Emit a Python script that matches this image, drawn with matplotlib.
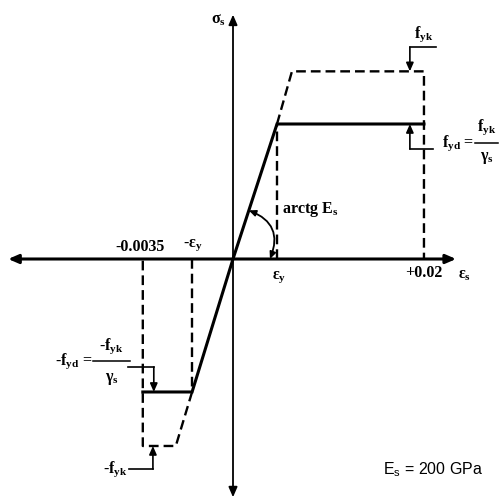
import matplotlib
matplotlib.use("Agg")
import matplotlib.pyplot as plt
from matplotlib.patches import FancyArrowPatch

plt.rcParams['mathtext.fontset'] = 'custom'
plt.rcParams['mathtext.rm'] = 'Liberation Serif:bold'
plt.rcParams['mathtext.it'] = 'Liberation Serif:bold'
plt.rcParams['mathtext.bf'] = 'Liberation Serif:bold'
plt.rcParams['mathtext.sf'] = 'Liberation Serif:bold'
plt.rcParams['lines.scale_dashes'] = False

# Schematic model (units: strain in multiples of eps_y, stress in multiples of f_yd)
eps_y_pos = 1.0          # +eps_y
eps_y_neg = -0.93        # -eps_y
eps_cu = -2.05           # position of -0.0035
eps_ud = 4.34            # position of +0.02
eps_k_pos = 1.34         # start of f_yk plateau (tension)
eps_k_neg = -1.30        # start of -f_yk plateau (compression)
fyd_pos = 1.0
fyk_pos = 1.39
fyd_neg = -0.985
fyk_neg = -1.385

# design curve (solid)
design_x = [eps_cu, eps_y_neg, 0.0, eps_y_pos, eps_ud]
design_y = [fyd_neg, fyd_neg, 0.0, fyd_pos, fyd_pos]
# characteristic curve (dashed)
char_top_x = [eps_y_pos, eps_k_pos, eps_ud, eps_ud]
char_top_y = [fyd_pos, fyk_pos, fyk_pos, 0.0]
char_bot_x = [eps_y_neg, eps_k_neg, eps_cu, eps_cu]
char_bot_y = [fyd_neg, fyk_neg, fyk_neg, 0.0]

tick_labels = ['-0.0035', r'-$\mathrm{\varepsilon_y}$', r'$\mathrm{\varepsilon_y}$', '+0.02']

fig = plt.figure(figsize=(4.99, 5.00), dpi=100)
ax = fig.add_axes([0, 0, 1, 1])
ax.set_xlim(-233 / 44, 266 / 44)
ax.set_ylim(-241 / 135, 259 / 135)
ax.axis('off')

dash = (0, (7, 3.6))
serif = dict(family='Liberation Serif', weight='bold', fontsize=11.5)

# axes with arrows
ax.add_patch(FancyArrowPatch((-5.11, 0), (5.07, 0), arrowstyle='<|-|>,head_length=6,head_width=2.6',
                             lw=2.2, color='black', mutation_scale=1, shrinkA=0, shrinkB=0))
ax.add_patch(FancyArrowPatch((0, -1.765), (0, 1.81), arrowstyle='<|-|>,head_length=6,head_width=2.6',
                             lw=1.3, color='black', mutation_scale=1, shrinkA=0, shrinkB=0))

# curves
ax.plot(design_x, design_y, color='black', lw=2.2, solid_joinstyle='miter')
ax.plot(char_top_x, char_top_y, color='black', lw=1.7, linestyle=dash)
ax.plot(char_bot_x, char_bot_y, color='black', lw=1.7, linestyle=dash)
# vertical dashed guides at eps_y
ax.plot([eps_y_pos, eps_y_pos], [0, fyd_pos], color='black', lw=1.7, linestyle=dash)
ax.plot([eps_y_neg, eps_y_neg], [0, fyd_neg], color='black', lw=1.7, linestyle=dash)

# annotation leaders
def leader(pts, tip):
    xs = [p[0] for p in pts]
    ys = [p[1] for p in pts]
    ax.plot(xs, ys, color='black', lw=1.2)
    ax.add_patch(FancyArrowPatch(pts[-1], tip, arrowstyle='-|>,head_length=5,head_width=2.2',
                                 lw=1.2, color='black', mutation_scale=1, shrinkA=0, shrinkB=0))

leader([(4.61, 1.57), (4.02, 1.57)], (4.02, fyk_pos))
leader([(4.55, 0.815), (4.02, 0.815)], (4.02, fyd_pos))
leader([(-2.39, -0.80), (-1.80, -0.80)], (-1.80, fyd_neg))
leader([(-2.36, -1.556), (-1.82, -1.556)], (-1.82, fyk_neg))

# angle arc
ax.add_patch(FancyArrowPatch((0.36, 0.36), (0.84, 0.0),
                             connectionstyle='arc3,rad=-0.5',
                             arrowstyle='<|-|>,head_length=4,head_width=1.8',
                             lw=1.3, color='black', mutation_scale=1, shrinkA=0, shrinkB=0))

# labels
ax.text(-0.341, 1.77, r'$\sigma_s$', ha='center', va='center', **serif)
ax.text(5.25, -0.12, r'$\varepsilon_s$', ha='center', va='center', **serif)
ax.text(eps_cu - 0.07, 0.09, tick_labels[0], ha='center', va='center', **serif)
ax.text(eps_y_neg + 0.02, 0.105, tick_labels[1], ha='center', va='center', **serif)
ax.text(eps_y_pos + 0.045, -0.135, tick_labels[2], ha='center', va='center', **serif)
ax.text(eps_ud, -0.105, tick_labels[3], ha='center', va='center', **serif)

ax.text(4.34, 1.665, r'$\mathrm{f_{yk}}$', ha='center', va='center', **serif)
ax.text(1.11, 0.37, r'arctg $\mathrm{E_s}$', ha='left', va='center', **serif)

# f_yd = f_yk / gamma_s  (right)
ax.text(5.48, 0.855, r'$\mathrm{f_{yd}}$ =', ha='right', va='center', **serif)
ax.plot([5.50, 6.03], [0.86, 0.86], color='black', lw=1.1)
ax.text(5.77, 0.975, r'$\mathrm{f_{yk}}$', ha='center', va='center', **serif)
ax.text(5.77, 0.745, r'$\gamma_s$', ha='center', va='center', **serif)

# -f_yd = -f_yk / gamma_s  (left)
ax.text(-3.20, -0.76, r'-$\mathrm{f_{yd}}$ =', ha='right', va='center', **serif)
ax.plot([-3.18, -2.34], [-0.756, -0.756], color='black', lw=1.1)
ax.text(-2.76, -0.645, r'-$\mathrm{f_{yk}}$', ha='center', va='center', **serif)
ax.text(-2.76, -0.89, r'$\gamma_s$', ha='center', va='center', **serif)

ax.text(-2.40, -1.556, r'-$\mathrm{f_{yk}}$', ha='right', va='center', **serif)

ax.text(3.41, -1.563, r'E$_\mathregular{s}$ = 200 GPa', ha='left', va='center',
        family='Liberation Sans', fontsize=11.5)

fig.savefig('out.png', dpi=100)
